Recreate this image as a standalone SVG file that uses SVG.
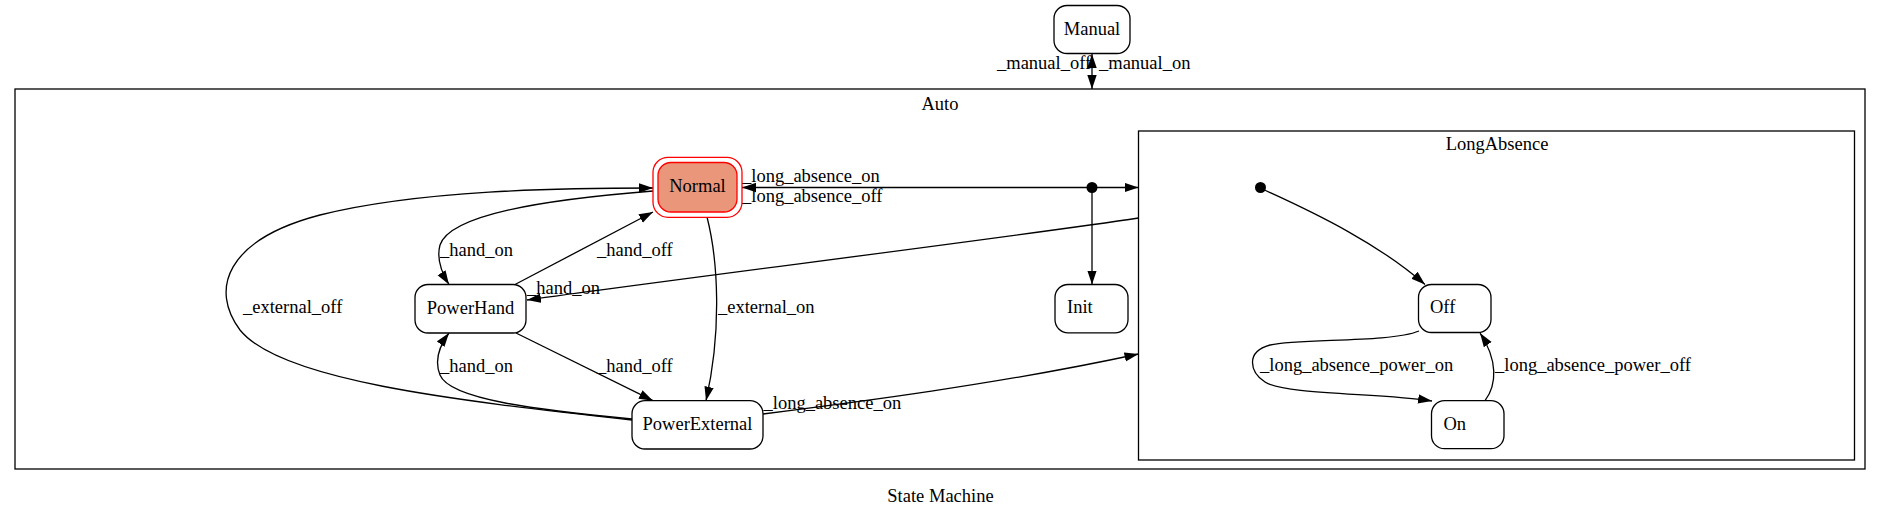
<svg xmlns="http://www.w3.org/2000/svg" width="1881" height="517" viewBox="0 0 1881 517">
<style>
text{font-family:"Liberation Serif","Times New Roman",serif;font-size:18.5px;fill:#000}
.c{text-anchor:middle}
.node{fill:#fff;stroke:#000;stroke-width:1.3}
.cluster{fill:none;stroke:#000;stroke-width:1.3}
.e{fill:none;stroke:#000;stroke-width:1.3}
.a{marker-end:url(#ah)}
.ab{marker-start:url(#ah);marker-end:url(#ah)}
</style>
<defs>
<marker id="ah" viewBox="0 0 14 10" refX="14" refY="5" markerWidth="14" markerHeight="10" markerUnits="userSpaceOnUse" orient="auto-start-reverse"><path d="M0,0.3 L14,5 L0,9.7 z" fill="#000"/></marker>
</defs>
<rect width="1881" height="517" fill="#fff"/>
<g id="cluster_Auto">
<rect class="cluster" x="15" y="89" width="1850" height="380"/>
<text class="c" x="940" y="110">Auto</text>
</g>
<g id="cluster_LongAbsence">
<rect class="cluster" x="1138.5" y="131" width="716" height="329"/>
<text class="c" x="1497" y="150">LongAbsence</text>
</g>
<g id="connectors">
<line class="e ab" x1="1092" y1="54" x2="1092" y2="89"/>
<line class="e ab" x1="742" y1="187.5" x2="1138.5" y2="187.5"/>
<line class="e a" x1="1092" y1="187.5" x2="1092" y2="284.5"/>
<path class="e a" d="M1138.5,218 C1020,236 700,276 527,300"/>
<path class="e a" d="M653,191 C540,200 450,215 440,245 C436,260 443,275 449,284.5"/>
<path class="e a" d="M515,284.5 L653,212"/>
<path class="e a" d="M516,333 L653,400.7"/>
<path class="e a" d="M632,419 C540,410 450,400 440,375 C434,360 440,345 449,333"/>
<path class="e a" d="M707,217 C718,260 722,330 706,400.7"/>
<path class="e a" d="M632,420 C450,400 280,380 240,330 C210,290 225,240 320,215 C420,190 560,188 653,188"/>
<path class="e a" d="M763,414 C850,403 1000,384 1138.5,354"/>
<path class="e a" d="M1260,188 C1320,215 1380,245 1425,284.5"/>
<path class="e a" d="M1419,331 C1390,343 1300,338 1270,345 C1245,352 1250,372 1265,382 C1285,395 1380,393 1432,401"/>
<path class="e a" d="M1485,400.7 C1497,385 1498,360 1480,333"/>
<circle cx="1092" cy="187.5" r="5.5" fill="#000"/>
<circle cx="1260.5" cy="187.5" r="5.5" fill="#000"/>
<text x="997" y="68.5">_manual_off</text>
<text x="1099" y="68.5">_manual_on</text>
<text x="742" y="182">_long_absence_on</text>
<text x="742" y="202">_long_absence_off</text>
<text x="440" y="256">_hand_on</text>
<text x="597" y="256">_hand_off</text>
<text x="527" y="294">_hand_on</text>
<text x="243" y="313">_external_off</text>
<text x="718" y="313">_external_on</text>
<text x="440" y="371.5">_hand_on</text>
<text x="597" y="371.5">_hand_off</text>
<text x="763.5" y="409">_long_absence_on</text>
<text x="1260" y="371">_long_absence_power_on</text>
<text x="1495" y="371">_long_absence_power_off</text>
</g>
<g id="Manual">
<rect class="node" x="1054" y="5.5" width="76" height="48" rx="13"/>
<text class="c" x="1092" y="35">Manual</text>
</g>
<g id="Normal">
<rect x="653" y="157.3" width="89" height="60" rx="15" fill="#fff" stroke="#f00" stroke-width="1.3"/>
<rect x="658" y="162.5" width="79" height="49.5" rx="13" fill="#e9967a" stroke="#f00" stroke-width="1.3"/>
<text class="c" x="697.5" y="192">Normal</text>
</g>
<g id="PowerHand">
<rect class="node" x="415" y="284.5" width="111" height="48.5" rx="13"/>
<text class="c" x="470.5" y="314">PowerHand</text>
</g>
<g id="PowerExternal">
<rect class="node" x="632" y="400.7" width="131" height="48.3" rx="13"/>
<text class="c" x="697.5" y="430">PowerExternal</text>
</g>
<g id="Init">
<rect class="node" x="1055" y="284.5" width="73" height="48.3" rx="13"/>
<text x="1067" y="313">Init</text>
</g>
<g id="Off">
<rect class="node" x="1418.5" y="284.5" width="72.5" height="48" rx="13"/>
<text x="1430" y="313">Off</text>
</g>
<g id="On">
<rect class="node" x="1431.5" y="400.7" width="72.5" height="48" rx="13"/>
<text x="1443.5" y="429.5">On</text>
</g>
<text class="c" x="940.5" y="502">State Machine</text>
</svg>
